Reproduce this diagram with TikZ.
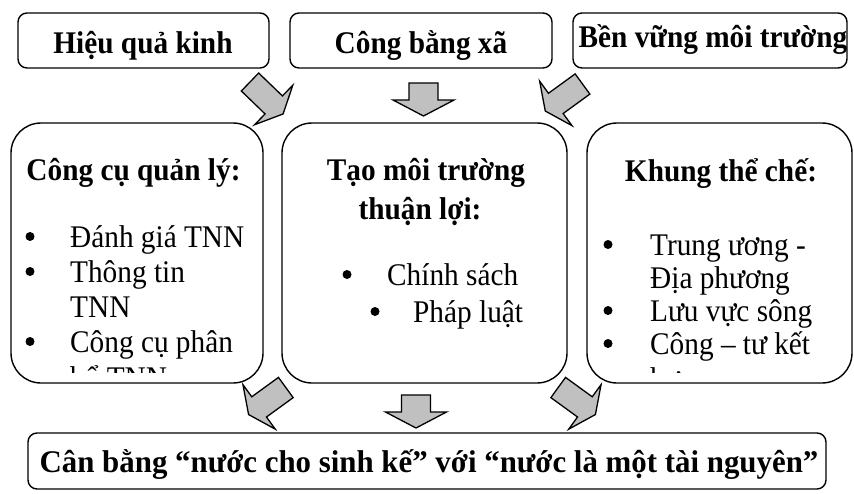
\documentclass[tikz,border=0pt]{standalone}
\usepackage{fontspec}
\setmainfont{Liberation Serif}
\newfontfamily\narrowfont{Liberation Serif}[FakeStretch=0.93]
\newfontfamily\widefont{Liberation Serif}[FakeStretch=0.98]
\definecolor{arrowgray}{RGB}{192,192,192}
\begin{document}
\begin{tikzpicture}[x=1pt,y=-1pt,
  topbox/.style={draw, line width=1.4pt, rounded corners=9pt, inner sep=0pt},
  midbox/.style={draw, line width=1.4pt, rounded corners=30pt, inner sep=0pt},
  arrowbody/.style={draw, fill=arrowgray, line width=1.3pt, line join=miter},
  ttl/.style={font=\fontsize{31.5pt}{38pt}\narrowfont\bfseries, inner sep=0pt, anchor=base},
  itm/.style={font=\fontsize{31.5pt}{38pt}\narrowfont, inner sep=0pt, anchor=base west},
  bul/.style={circle, fill=black, inner sep=0pt, minimum size=9pt},
  diagarrow/.pic={\draw[arrowbody] (0,-12.5) -- (33,-12.5) -- (33,-27.5) -- (46,0) -- (33,27.5) -- (33,12.5) -- (0,12.5) -- cycle;},
  downarrow/.pic={\draw[arrowbody] (0,-14.5) -- (17,-14.5) -- (17,-30.5) -- (33,0) -- (17,30.5) -- (17,14.5) -- (0,14.5) -- cycle;}
]
\useasboundingbox (0,0) rectangle (854,493);

% top boxes
\node[topbox, minimum width=251pt, minimum height=55pt] (b1) at (143.5,40.5) {};
\node[topbox, minimum width=262pt, minimum height=55pt] (b2) at (421,40.5) {};
\node[topbox, minimum width=274pt, minimum height=55pt] (b3) at (710,40.5) {};
\node[ttl] (t1) at (143,53) {Hiệu quả kinh};
\node[ttl] (t2) at (421,53) {Công bằng xã};
\node[ttl] (t3) at (713,47) {Bền vững môi trường};

% middle boxes
\node[midbox, minimum width=252pt, minimum height=260pt] (m1) at (137,253) {};
\node[midbox, minimum width=285pt, minimum height=260pt] (m2) at (424.5,253) {};
\node[midbox, minimum width=265pt, minimum height=260pt] (m3) at (719.5,253) {};

\begin{scope}
\clip (0,125) rectangle (854,372);
% left
\node[ttl] (l0) at (133.5,180) {Công cụ quản lý:};
\node[bul] (lb1) at (30,236.5) {};
\node[itm] (l1) at (70,247) {Đánh giá TNN};
\node[bul] (lb2) at (30,271.5) {};
\node[itm] (l2) at (70,282) {Thông tin};
\node[itm] (l3) at (70,317) {TNN};
\node[bul] (lb4) at (30,341.5) {};
\node[itm] (l4) at (70,352) {Công cụ phân};
\node[itm] (l5) at (70,388) {bổ TNN};
% middle
\node[ttl] (c0) at (426,180) {Tạo môi trường};
\node[ttl] (c1) at (420,219) {thuận lợi:};
\node[bul] (cb2) at (347,274.5) {};
\node[itm] (c2) at (387,285) {Chính sách};
\node[bul] (cb3) at (375,311.5) {};
\node[itm] (c3) at (413,322) {Pháp luật};
% right
\node[ttl] (r0) at (721,181) {Khung thể chế:};
\node[bul] (rb1) at (608,244.5) {};
\node[itm] (r1) at (650,255) {Trung ương -};
\node[itm] (r2) at (650,288) {Địa phương};
\node[bul] (rb3) at (608,310.5) {};
\node[itm] (r3) at (650,321) {Lưu vực sông};
\node[bul] (rb4) at (608,343.5) {};
\node[itm] (r4) at (650,354) {Công – tư kết};
\node[itm] (r5) at (650,389) {hợp};
\end{scope}

% bottom box
\node[topbox, minimum width=798pt, minimum height=56pt] (bb) at (427,461) {};
\node[ttl, font=\fontsize{31.5pt}{38pt}\widefont\bfseries] (bt) at (429,472) {Cân bằng “nước cho sinh kế” với “nước là một tài nguyên”};

% block arrows
\pic[rotate=-44] at (250,82) {diagarrow};
\pic[rotate=-90] at (423.5,83) {downarrow};
\pic[rotate=-144] at (582.5,84) {diagarrow};
\pic[rotate=-144] at (285.8,387.5) {diagarrow};
\pic[rotate=-90] at (416,395) {downarrow};
\pic[rotate=-36] at (558.2,387.5) {diagarrow};
\end{tikzpicture}
\end{document}
